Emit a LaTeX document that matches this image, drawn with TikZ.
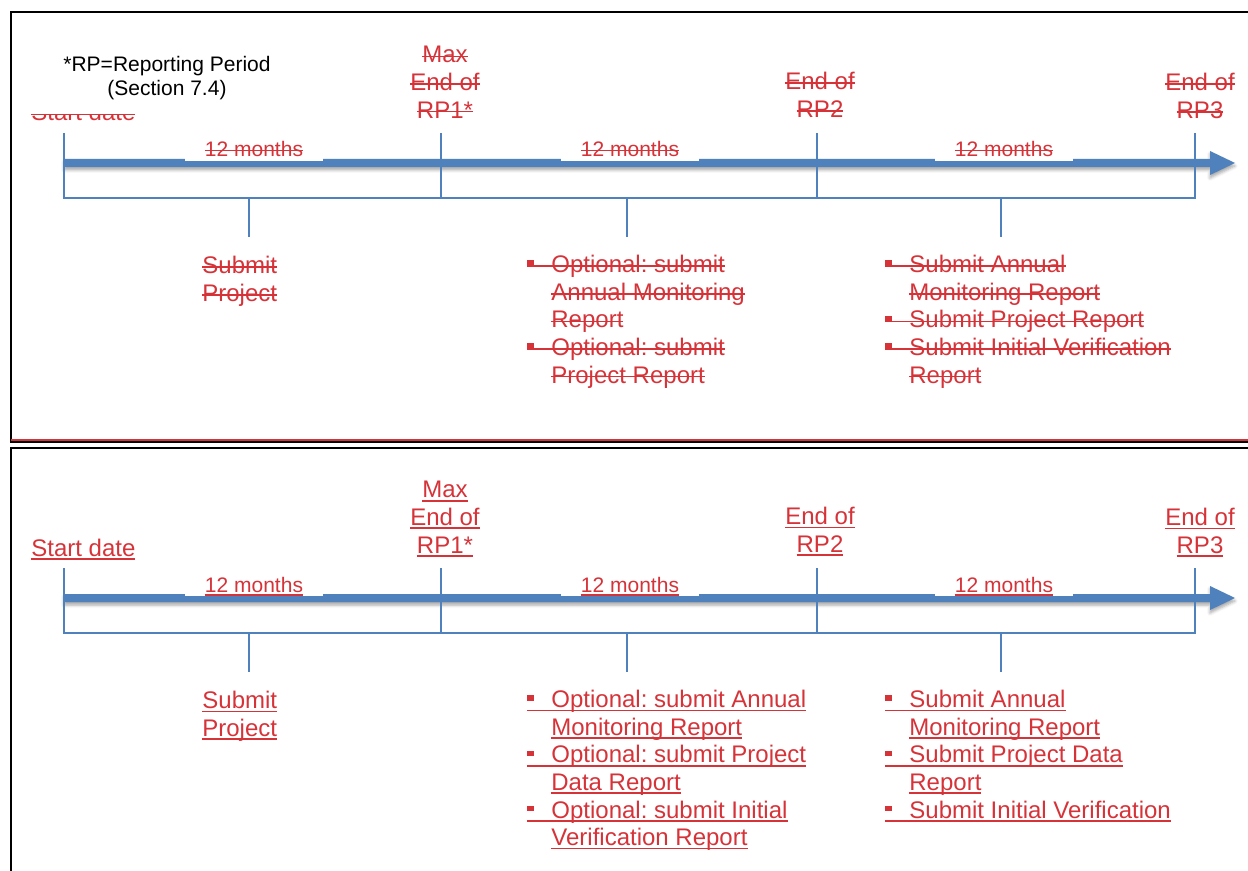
\documentclass[tikz,border=0pt]{standalone}
\usepackage{fontspec}
\setmainfont{Liberation Sans}
\usetikzlibrary{shadows.blur}

\definecolor{trkred}{RGB}{214,51,57}
\definecolor{lineblue}{RGB}{79,129,189}

\frenchspacing
\newlength{\marklen}
\newcommand{\sqbullet}{\makebox[12pt][l]{\raisebox{3.4pt}{\rule{3.2pt}{2.8pt}}}}
\newcommand{\strk}[1]{\settowidth{\marklen}{#1}\rlap{\rule[2.9pt]{\marklen}{0.8pt}}#1}
\newcommand{\undl}[1]{\settowidth{\marklen}{#1}\rlap{\rule[-1.8pt]{\marklen}{0.9pt}}#1}

\begin{document}
\begin{tikzpicture}[x=0.5pt, y=-0.5pt,
    lbl/.style={text=trkred, font=\fontsize{12}{13.8}\selectfont, inner sep=0pt, execute at begin node=\strut},
    months/.style={text=trkred, font=\fontsize{10.5}{12}\selectfont, fill=white, inner xsep=10pt, inner ysep=1.8pt, text depth=0pt, anchor=base},
    note/.style={font=\fontsize{10.5}{12}\selectfont, align=center, inner sep=0pt, execute at begin node=\strut},
    tickline/.style={draw=lineblue, line width=1pt},
    panel/.style={draw=black, line width=1pt}]
    \useasboundingbox (0,0) rectangle (1248,871);

    % ---------- Old version (struck out) ----------
    \draw[panel] (1248,12) -- (11,12) -- (11,442) -- (1248,442);
    \draw[trkred, line width=0.8pt] (11,440) -- (1248,440);

    % Time axis
    \fill[lineblue, blur shadow={shadow xshift=0pt, shadow yshift=-1.5pt, shadow blur radius=1.5pt, shadow opacity=35}]
      (64,159) -- (1210,159) -- (1210,151) -- (1235,163) -- (1210,175) -- (1210,167) -- (64,167) -- cycle;

    % Ticks and brackets
    \draw[tickline] (64,133) -- (64,198) -- (1195,198) -- (1195,133);
    \draw[tickline] (441,133) -- (441,198);
    \draw[tickline] (817,133) -- (817,198);
    \draw[tickline] (249,198) -- (249,237);
    \draw[tickline] (627,198) -- (627,237);
    \draw[tickline] (1001,198) -- (1001,237);

    % Milestones
    \node[lbl, anchor=base west] (starta) at (31,121) {\strk{Start date}};
    \fill[white] (22,40) rectangle (300,114);
    \node[note, anchor=north] (rpnote) at (167,56) {*RP=Reporting Period\\(Section 7.4)};
    \node[lbl, align=center, anchor=north] (rponea) at (445,46) {\strk{Max}\\\strk{End of}\\\strk{RP1*}};
    \node[lbl, align=center, anchor=north] (rptwoa) at (820,72) {\strk{End of}\\\strk{RP2}};
    \node[lbl, align=center, anchor=north] (rpthreea) at (1200,73) {\strk{End of}\\\strk{RP3}};

    \node[months] (mononea) at (254,157) {\strk{12 months}};
    \node[months] (montwoa) at (630,157) {\strk{12 months}};
    \node[months] (monthreea) at (1004,157) {\strk{12 months}};

    % Tasks
    \node[lbl, align=left, anchor=north west] (submita) at (202,256) {\strk{Submit}\\\strk{Project}};
    \node[lbl, align=left, anchor=north west] (opta) at (527,255)
      {\strk{\sqbullet Optional: submit}\\\hspace*{12pt}\strk{Annual Monitoring}\\\hspace*{12pt}\strk{Report}\\
       \strk{\sqbullet Optional: submit}\\\hspace*{12pt}\strk{Project Report}};
    \node[lbl, align=left, anchor=north west] (reqa) at (885,255)
      {\strk{\sqbullet Submit Annual}\\\hspace*{12pt}\strk{Monitoring Report}\\
       \strk{\sqbullet Submit Project Report}\\
       \strk{\sqbullet Submit Initial Verification}\\\hspace*{12pt}\strk{Report}};

    % ---------- New version (inserted) ----------
    \draw[panel] (1248,448.5) -- (11,448.5) -- (11,871);

    % Time axis
    \fill[lineblue, blur shadow={shadow xshift=0pt, shadow yshift=-1.5pt, shadow blur radius=1.5pt, shadow opacity=35}]
      (64,594) -- (1210,594) -- (1210,586) -- (1235,598) -- (1210,610) -- (1210,602) -- (64,602) -- cycle;

    % Ticks and brackets
    \draw[tickline] (64,568) -- (64,633) -- (1195,633) -- (1195,568);
    \draw[tickline] (441,568) -- (441,633);
    \draw[tickline] (817,568) -- (817,633);
    \draw[tickline] (249,633) -- (249,672);
    \draw[tickline] (627,633) -- (627,672);
    \draw[tickline] (1001,633) -- (1001,672);

    % Milestones
    \node[lbl, anchor=base west] (startb) at (31,556) {\undl{Start date}};
    \node[lbl, align=center, anchor=north] (rponeb) at (445,481) {\undl{Max}\\\undl{End of}\\\undl{RP1*}};
    \node[lbl, align=center, anchor=north] (rptwob) at (820,507) {\undl{End of}\\\undl{RP2}};
    \node[lbl, align=center, anchor=north] (rpthreeb) at (1200,508) {\undl{End of}\\\undl{RP3}};

    \node[months] (mononeb) at (254,592) {\undl{12 months}};
    \node[months] (montwob) at (630,592) {\undl{12 months}};
    \node[months] (monthreeb) at (1004,592) {\undl{12 months}};

    % Tasks
    \node[lbl, align=left, anchor=north west] (submitb) at (202,691) {\undl{Submit}\\\undl{Project}};
    \node[lbl, align=left, anchor=north west] (optb) at (527,690)
      {\undl{\sqbullet Optional: submit Annual}\\\hspace*{12pt}\undl{Monitoring Report}\\
       \undl{\sqbullet Optional: submit Project}\\\hspace*{12pt}\undl{Data Report}\\
       \undl{\sqbullet Optional: submit Initial}\\\hspace*{12pt}\undl{Verification Report}};
    \node[lbl, align=left, anchor=north west] (reqb) at (885,690)
      {\undl{\sqbullet Submit Annual}\\\hspace*{12pt}\undl{Monitoring Report}\\
       \undl{\sqbullet Submit Project Data}\\\hspace*{12pt}\undl{Report}\\
       \undl{\sqbullet Submit Initial Verification}};
\end{tikzpicture}
\end{document}
